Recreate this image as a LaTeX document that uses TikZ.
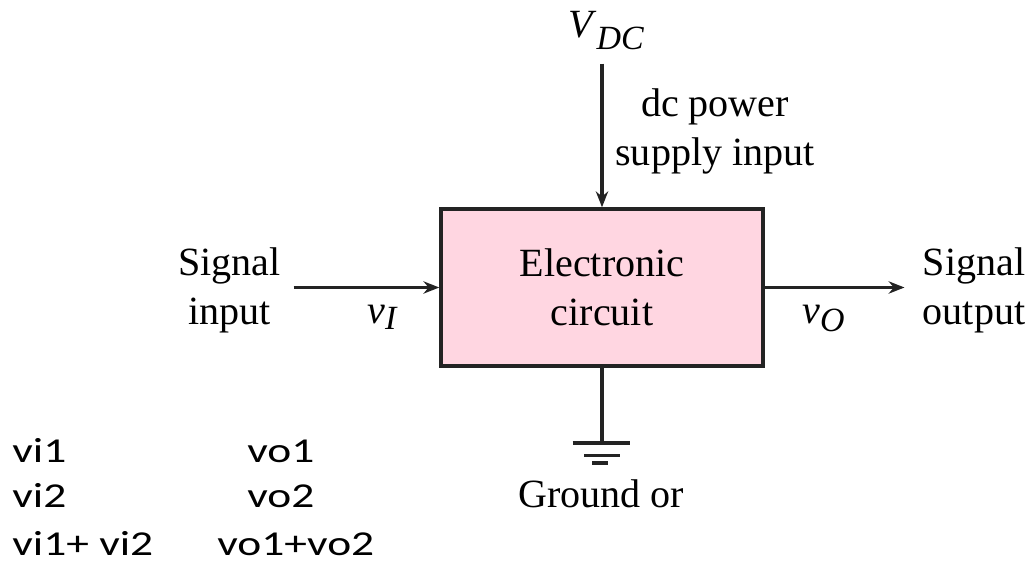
\documentclass[tikz,border=0pt]{standalone}
\usepackage{fontspec}
\setmainfont{Liberation Serif}
\newfontfamily\carlito{Carlito}
\usetikzlibrary{arrows.meta, positioning}
\definecolor{boxpink}{RGB}{255,214,225}
\definecolor{wiregray}{RGB}{35,35,35}
\newcommand{\sig}[3]{\textit{#1}\raisebox{-#3}{\fontsize{19.3}{19.3}\selectfont\textit{#2}}}

\begin{document}
\begin{tikzpicture}[x=0.02cm, y=-0.02cm,
			every node/.style={inner sep=0pt},
			lbl/.style={font=\fontsize{22.8}{27.9}\selectfont, align=center},
			box/.style={draw=wiregray, line width=2pt, fill=boxpink,
				minimum width=6.44cm, minimum height=3.14cm, lbl},
			wire/.style={draw=wiregray, line width=2pt},
			arr/.style={wire, -{Stealth[length=9pt, width=7pt]}},
			tbl/.style={anchor=base west, font=\carlito\fontsize{19.9}{19.9}\selectfont},
			]
			\useasboundingbox (0,0) rectangle (1026,580);

			% Block
			\node[box] (circ) at (602,287.5) {Electronic\\circuit};

			% Supply
			\node[lbl, anchor=base west] (vdc) at (568,38) {\sig{V}{DC}{6.8pt}};
			\node[lbl] (dcin) at (715,131) {dc power\\supply input};

			% Signals
			\node[lbl] (sigin) at (229.5,290.5) {Signal\\input};
			\node[lbl] (sigout) at (974,290.5) {Signal\\output};
			\node[lbl, anchor=base west] (vi) at (367,324) {\sig{v}{I}{3pt}};
			\node[lbl, anchor=base west] (vo) at (802,324) {\sig{v}{O}{4.5pt}};

			% Ground
			\coordinate (gnd) at (602,443);
			\node[lbl, anchor=base] (gndlbl) at (601,507) {Ground or};

			% Arrows
			\draw[arr, shorten <=0.26cm] (circ.north |- vdc.south) -- (circ.north);
			\draw[arr, shorten <=0.25cm] (sigin.east |- circ.west) -- (circ.west);
			\draw[arr, shorten >=0.36cm] (circ.east) -- (sigout.west |- circ.east);
			\draw[wire] (circ.south) -- (gnd);
			\draw[wire] (gnd) ++(-29.5,0) -- ++(57,0);
			\draw[wire] (gnd) ++(-18,12.3) -- ++(36,0);
			\draw[wire] (gnd) ++(-10,20) -- ++(16,0);

			% Superposition
			\node[tbl] (in1) at (12,462) {\scalebox{1.3}[1]{vi1}};
			\node[tbl] (in2) at (12,507) {\scalebox{1.3}[1]{vi2}};
			\node[tbl] (insum) at (12,555) {\scalebox{1.3}[1]{vi1+ vi2}};
			\node[tbl] (out1) at (247,462) {\scalebox{1.3}[1]{vo1}};
			\node[tbl] (out2) at (247,507) {\scalebox{1.3}[1]{vo2}};
			\node[tbl] (outsum) at (217,555) {\scalebox{1.3}[1]{vo1+vo2}};
		\end{tikzpicture}
\end{document}
